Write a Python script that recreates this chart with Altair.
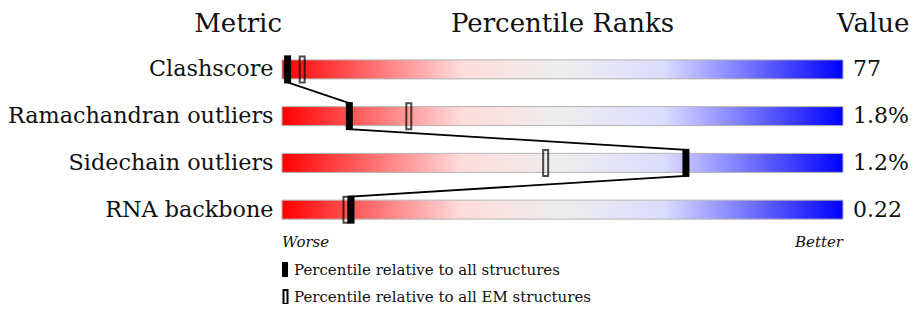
import altair as alt
import pandas as pd

metrics = ["Clashscore", "Ramachandran outliers", "Sidechain outliers", "RNA backbone"]
values = ["77", "1.8%", "1.2%", "0.22"]
pct_all = [1, 12, 72, 12.3]
pct_em = [3.6, 22.6, 47, 11.4]

FONT = "DejaVu Serif"
W, H = 561, 187
rowh = H / len(metrics)

df = pd.DataFrame({"metric": metrics, "value": values, "all": pct_all, "em": pct_em,
                   "lo": [0] * 4, "hi": [100] * 4})

# connecting line through the black markers (top -> bottom of each marker)
off = 13 / rowh
line_rows = []
k = 0
for i, p in enumerate(pct_all):
    line_rows.append({"x": p, "y": i + 0.5 - off, "o": k}); k += 1
    line_rows.append({"x": p, "y": i + 0.5 + off, "o": k}); k += 1
ldf = pd.DataFrame(line_rows)

xs = alt.Scale(domain=[0, 100], range=[0, W])
ys = alt.Scale(domain=metrics, range=[0, H], paddingInner=0, paddingOuter=0)

grad = alt.Gradient(
    gradient="linear",
    stops=[
        alt.GradientStop(color="#ff0000", offset=0),
        alt.GradientStop(color="#ffdcdc", offset=0.32),
        alt.GradientStop(color="#eeeeee", offset=0.5),
        alt.GradientStop(color="#dcdcff", offset=0.68),
        alt.GradientStop(color="#0000ff", offset=1),
    ],
    x1=0, x2=1, y1=0, y2=0,
)

base = alt.Chart(df)
Y = lambda: alt.Y("metric:N", scale=ys, sort=metrics, axis=None)

bars = base.mark_bar(height=19, color=grad, stroke="#b4b4b4", strokeWidth=1).encode(
    x=alt.X("lo:Q", scale=xs, axis=None),
    x2="hi:Q",
    y=alt.Y("metric:N", scale=ys, sort=metrics,
            axis=alt.Axis(title=None, ticks=False, domain=False, grid=False, labelPadding=9,
                          labelFont=FONT, labelFontSize=22.3, labelColor="#111",
                          labelLimit=400)),
)

line = alt.Chart(ldf).mark_line(color="black", strokeWidth=1.8).encode(
    x=alt.X("x:Q", scale=xs, axis=None),
    y=alt.Y("y:Q", scale=alt.Scale(domain=[0, 4], range=[0, H]), axis=None),
    order="o:Q",
)

em_ticks = base.mark_tick(orient="vertical", filled=False, stroke="black", strokeWidth=2,
                          size=26, thickness=5, strokeOpacity=1).encode(
    x=alt.X("em:Q", scale=xs, axis=None), y=Y())

all_ticks = base.mark_tick(orient="vertical", color="black", size=28, thickness=7, opacity=1).encode(
    x=alt.X("all:Q", scale=xs, axis=None), y=Y())

vals = base.mark_text(align="left", baseline="middle", dx=10, font=FONT, fontSize=22, color="#111").encode(
    x=alt.X("hi:Q", scale=xs, axis=None), y=Y(), text="value:N")

def label(txt, xd, yv, align, size, style="normal", dx=0):
    return alt.Chart(pd.DataFrame({"t": [txt]})).mark_text(
        align=align, baseline="middle", font=FONT, fontSize=size, fontStyle=style,
        color="#111", dx=dx).encode(x=alt.X("xx:Q", scale=xs, axis=None),
                                    y=alt.value(yv), text="t:N").transform_calculate(xx=str(xd))

titles = [
    label("Metric", 0, -22, "right", 26, dx=0),
    label("Percentile Ranks", 50, -22, "center", 26),
    label("Value", 100, -22, "left", 26, dx=-6),
    label("Worse", 0, 196, "left", 15, "italic"),
    label("Better", 100, 196, "right", 15, "italic"),
    label("Percentile relative to all structures", 0, 224, "left", 15, dx=12),
    label("Percentile relative to all EM structures", 0, 250.5, "left", 15, dx=12),
]

leg1 = alt.Chart(pd.DataFrame({"a": [0]})).mark_rect(color="black").encode(
    x=alt.value(0), x2=alt.value(6), y=alt.value(216), y2=alt.value(231))
leg2 = alt.Chart(pd.DataFrame({"a": [0]})).mark_rect(fill=None, stroke="black", strokeWidth=2).encode(
    x=alt.value(1.5), x2=alt.value(5.5), y=alt.value(244), y2=alt.value(258))

chart = alt.layer(bars, line, em_ticks, all_ticks, vals, *titles, leg1, leg2).resolve_scale(
    y="independent"
).properties(
    width=W, height=H,
    background="white",
    autosize=alt.AutoSizeParams(type="none"),
    padding={"left": 274, "top": 38, "right": 68, "bottom": 71},
).configure_view(stroke="transparent", strokeWidth=0).configure_axis(grid=False, domain=False)

chart.save("out.html", embed_options={"renderer": "svg", "actions": False})
